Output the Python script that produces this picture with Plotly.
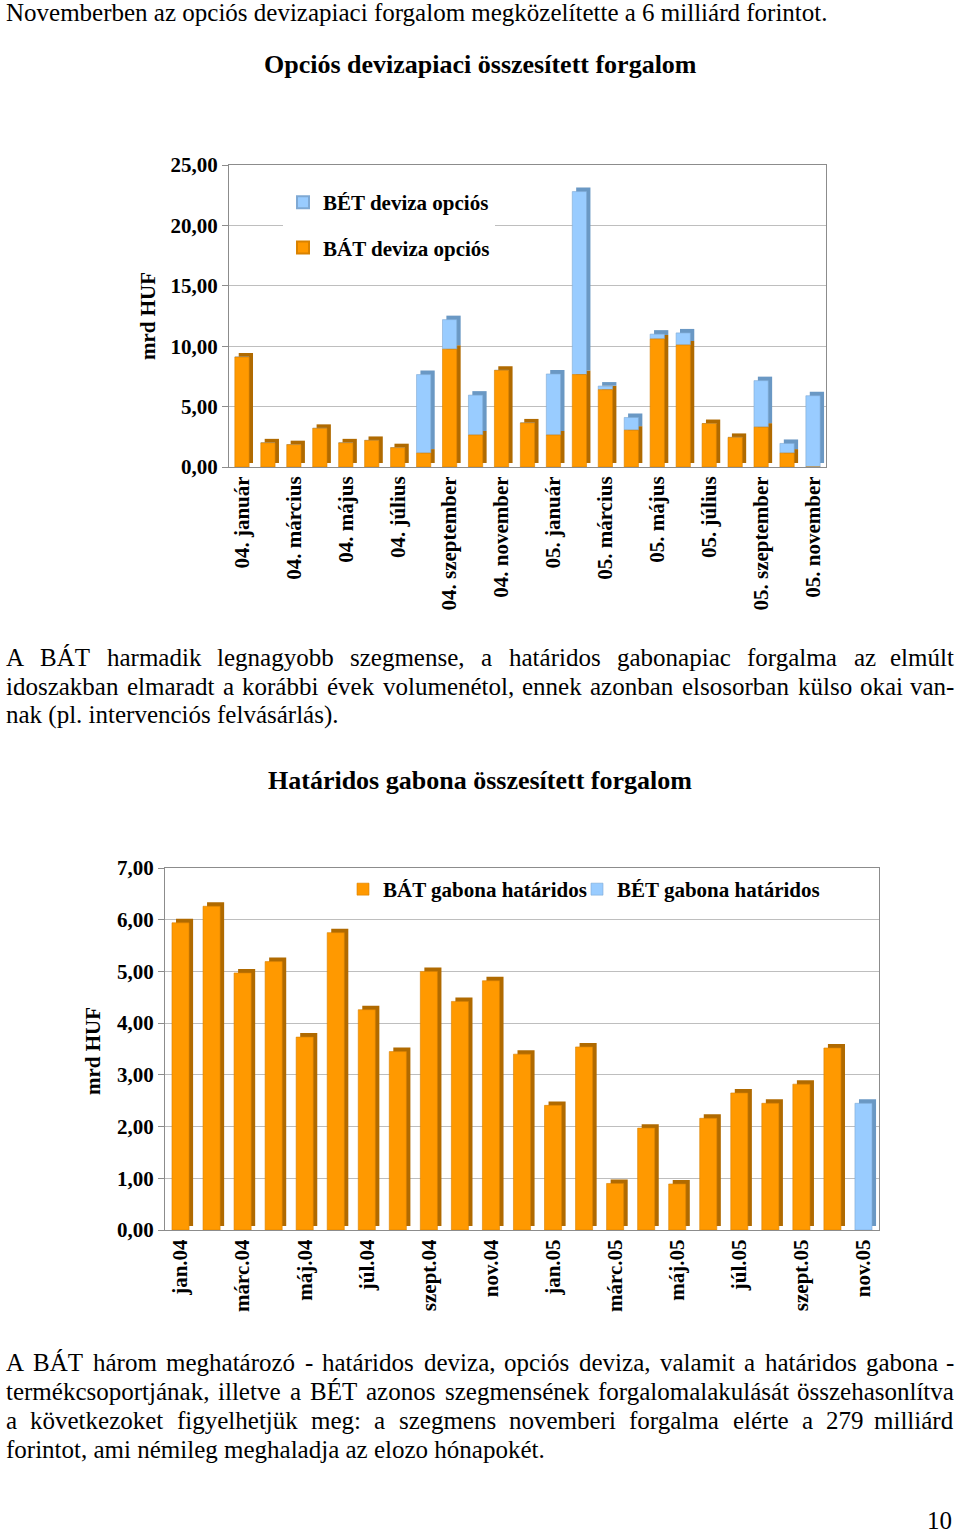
import plotly.graph_objects as go

# ---------------- DATA ----------------
months1 = ["04. január", "04. február", "04. március", "04. április", "04. május", "04. június",
           "04. július", "04. augusztus", "04. szeptember", "04. október", "04. november", "04. december",
           "05. január", "05. február", "05. március", "05. április", "05. május", "05. június",
           "05. július", "05. augusztus", "05. szeptember", "05. október", "05. november"]
bat_deviza_opcios = [9.1, 2.0, 1.85, 3.2, 2.0, 2.2, 1.6, 1.15, 9.75, 2.65, 8.0, 3.65,
                     2.65, 7.65, 6.4, 3.05, 10.6, 10.1, 3.6, 2.45, 3.3, 1.15, 0.0]
bet_deviza_opcios = [0.0, 0.0, 0.0, 0.0, 0.0, 0.0, 0.0, 6.5, 2.45, 3.3, 0.0, 0.0,
                     5.05, 15.15, 0.3, 1.05, 0.4, 1.0, 0.0, 0.0, 3.85, 0.8, 5.9]

months2 = ["jan.04", "febr.04", "márc.04", "ápr.04", "máj.04", "jún.04", "júl.04", "aug.04",
           "szept.04", "okt.04", "nov.04", "dec.04", "jan.05", "febr.05", "márc.05", "ápr.05",
           "máj.05", "jún.05", "júl.05", "aug.05", "szept.05", "okt.05", "nov.05"]
bat_gabona = [5.94, 6.26, 4.97, 5.19, 3.73, 5.75, 4.26, 3.45, 5.0, 4.42, 4.82, 3.40,
              2.41, 3.54, 0.90, 1.97, 0.89, 2.16, 2.65, 2.45, 2.82, 3.52, None]
bet_gabona = [None] * 22 + [2.45]

yticks1 = [0, 5, 10, 15, 20, 25]
yticks2 = [0, 1, 2, 3, 4, 5, 6, 7]

# ---------------- TEXT ----------------
intro = "Novemberben az opciós devizapiaci forgalom megközelítette a 6 milliárd forintot."
title1 = "Opciós devizapiaci összesített forgalom"
para2 = ["A BÁT harmadik legnagyobb szegmense, a határidos gabonapiac forgalma az elmúlt",
         "idoszakban elmaradt a korábbi évek volumenétol, ennek azonban elsosorban külso okai van-",
         "nak (pl. intervenciós felvásárlás)."]
title2 = "Határidos gabona összesített forgalom"
para3 = ["A BÁT három meghatározó - határidos deviza, opciós deviza, valamit a határidos gabona -",
         "termékcsoportjának, illetve a BÉT azonos szegmensének forgalomalakulását összehasonlítva",
         "a következoket figyelhetjük meg: a szegmens novemberi forgalma elérte a 279 milliárd",
         "forintot, ami némileg meghaladja az elozo hónapokét."]
page_no = "10"

# ---------------- STYLE ----------------
W, H = 960, 1537
FONT = "Liberation Serif"
ORANGE, ORANGE_SIDE = "#FF9900", "#B06A00"
BLUE, BLUE_SIDE = "#99CCFF", "#6A98C4"
GRID = "#BEBEBE"
AXIS = "#8C8C8C"

def px(x):
    return x / W

def py(y):
    return 1 - y / H

# Times-compatible glyph widths (per 1000 em) for justification
TW = {' ': 250, 'a': 444, 'b': 500, 'c': 444, 'd': 500, 'e': 444, 'f': 333, 'g': 500, 'h': 500,
      'i': 278, 'j': 278, 'k': 500, 'l': 278, 'm': 778, 'n': 500, 'o': 500, 'p': 500, 'q': 500,
      'r': 333, 's': 389, 't': 278, 'u': 500, 'v': 500, 'w': 722, 'x': 500, 'y': 500, 'z': 444,
      'A': 722, 'B': 667, 'C': 667, 'D': 722, 'E': 611, 'F': 556, 'G': 722, 'H': 722, 'I': 333,
      'J': 389, 'K': 722, 'L': 611, 'M': 889, 'N': 722, 'O': 722, 'P': 556, 'Q': 722, 'R': 667,
      'S': 556, 'T': 611, 'U': 722, 'V': 722, 'W': 944, 'X': 722, 'Y': 722, 'Z': 611,
      ',': 250, '.': 250, '-': 333, ':': 278, '(': 333, ')': 333}
ACC = {'á': 'a', 'é': 'e', 'í': 'i', 'ó': 'o', 'ö': 'o', 'ő': 'o', 'ú': 'u', 'ü': 'u', 'ű': 'u',
       'Á': 'A', 'É': 'E', 'Í': 'I', 'Ó': 'O', 'Ö': 'O', 'Ú': 'U', 'Ü': 'U'}

def text_w(s, size):
    return sum(TW.get(ACC.get(c, c), 500) for c in s) * size / 1000

annotations = []

def add_text(text, x, y, size=25, bold=False, xanchor="left", angle=0):
    annotations.append(dict(text=text, x=px(x), y=py(y), xref="paper", yref="paper",
                            xanchor=xanchor, yanchor="middle", showarrow=False, textangle=angle,
                            borderpad=0,
                            font=dict(family=FONT, size=size, color="black",
                                      weight="bold" if bold else "normal")))

def add_line(text, y, justify, x0=5, x1=955, size=25):
    if not justify:
        add_text(text, x0, y, size)
        return
    words = text.split(" ")
    widths = [text_w(w, size) for w in words]
    gap = (x1 - x0 - sum(widths)) / (len(words) - 1)
    x = x0
    for i, (wd, ww) in enumerate(zip(words, widths)):
        if i == len(words) - 1:
            add_text(wd, x1, y, size, xanchor="right")
        else:
            add_text(wd, x, y, size)
        x += ww + gap

add_line(intro, 12, False)
add_text(title1, 480, 65, 26, bold=True, xanchor="center")
for i, ln in enumerate(para2):
    add_line(ln, 657 + 29 * i, i < 2)
add_text(title2, 480, 780, 26, bold=True, xanchor="center")
for i, ln in enumerate(para3):
    add_line(ln, 1362 + 29 * i, i < 3)
add_text(page_no, 953, 1520, 25, xanchor="right")
add_text("mrd HUF", 148, 316, 21, bold=True, xanchor="center", angle=-90)
add_text("mrd HUF", 93, 1051, 21, bold=True, xanchor="center", angle=-90)

# ---------------- TRACES ----------------
fig = go.Figure()
BW = 0.55

def bars(x, y, base, color, name, xa, ya, legend, showlegend, dx=0.0, dy=0.0, line=None):
    b = None
    if base is not None:
        b = [(bb or 0) + dy for bb in base]
    elif dy:
        b = [dy] * len(x)
    fig.add_trace(go.Bar(
        x=x, y=y, base=b, name=name, width=BW, offset=-BW / 2 + dx,
        marker=dict(color=color, line=dict(width=0.6 if line else 0, color=line or color)),
        xaxis=xa, yaxis=ya, legend=legend, legendgroup=name, showlegend=showlegend,
        hoverinfo="skip"))

# chart 1 (3D-look side faces first)
dx1, dy1 = 0.15, 0.33
bars(months1, bat_deviza_opcios, None, ORANGE_SIDE, "s1", "x", "y", "legend", False, dx1, dy1)
bars(months1, bet_deviza_opcios, bat_deviza_opcios, BLUE_SIDE, "s2", "x", "y", "legend", False, dx1, dy1)
bars(months1, bet_deviza_opcios, bat_deviza_opcios, BLUE, "BÉT deviza opciós", "x", "y", "legend", True,
     line="#7FA9D4")
bars(months1, bat_deviza_opcios, None, ORANGE, "BÁT deviza opciós", "x", "y", "legend", True,
     line="#D98200")

# chart 2
dx2, dy2 = 0.13, 0.077
bars(months2, bat_gabona, None, ORANGE_SIDE, "s3", "x2", "y2", "legend2", False, dx2, dy2)
bars(months2, bet_gabona, None, BLUE_SIDE, "s4", "x2", "y2", "legend3", False, dx2, dy2)
bars(months2, bat_gabona, None, ORANGE, "BÁT gabona határidos", "x2", "y2", "legend2", True, line="#D98200")
bars(months2, bet_gabona, None, BLUE, "BÉT gabona határidos", "x2", "y2", "legend3", True, line="#7FA9D4")

tickfont = dict(family=FONT, size=21, color="black", weight="bold")
xtickfont = dict(family=FONT, size=21, color="black", weight="bold")
legfont = dict(family=FONT, size=21, color="black", weight="bold")

common_y = dict(showgrid=True, gridcolor=GRID, gridwidth=1, showline=True, linecolor=AXIS,
                mirror=True, ticks="outside", ticklen=6, tickcolor=AXIS, tickfont=tickfont,
                tickformat=".2f", zeroline=False, fixedrange=True, automargin=False)
common_x = dict(type="category", showgrid=False, showline=True, linecolor=AXIS, mirror=True,
                ticks="", tickangle=-90, tickfont=xtickfont, range=[-0.5, 22.5], fixedrange=True,
                automargin=False)

fig.update_layout(
    width=W, height=H, margin=dict(l=0, r=0, t=0, b=0, autoexpand=False),
    paper_bgcolor="white", plot_bgcolor="white",
    separators=",.", barmode="overlay",
    xaxis=dict(domain=[px(229), px(826)], anchor="y", categoryorder="array", categoryarray=months1,
               tickvals=months1[::2], ticktext=months1[::2], **common_x),
    yaxis=dict(domain=[py(467), py(165)], anchor="x", range=[0, 25], tickvals=yticks1, **common_y),
    xaxis2=dict(domain=[px(165), px(879)], anchor="y2", categoryorder="array", categoryarray=months2,
                tickvals=months2[::2], ticktext=months2[::2], **common_x),
    yaxis2=dict(domain=[py(1230), py(868)], anchor="x2", range=[0, 7], tickvals=yticks2, **common_y),
    legend=dict(x=px(283), y=py(182), xanchor="left", yanchor="top", orientation="v",
                bgcolor="white", font=legfont, traceorder="grouped", tracegroupgap=15,
                itemsizing="constant"),
    legend2=dict(x=px(343), y=py(869), xanchor="left", yanchor="top", orientation="h",
                 bgcolor="rgba(0,0,0,0)", font=legfont),
    legend3=dict(x=px(577), y=py(869), xanchor="left", yanchor="top", orientation="h",
                 bgcolor="rgba(0,0,0,0)", font=legfont),
    annotations=annotations,
    shapes=[dict(type="rect", xref="paper", yref="paper", x0=px(232), x1=px(540), y0=py(272),
                 y1=py(178), fillcolor="white", line=dict(width=0), layer="between")],
    showlegend=True,
)

fig.write_html("out.html", config={"displayModeBar": False},
               post_script="document.body.style.margin='0';")
